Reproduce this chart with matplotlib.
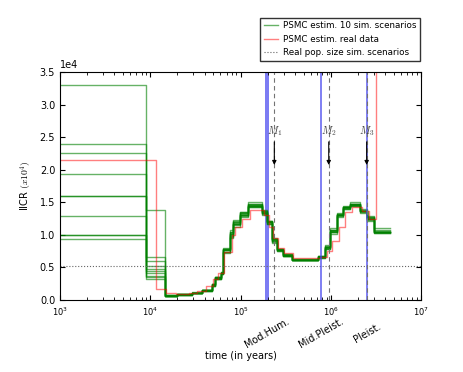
import matplotlib
matplotlib.use('Agg')
import matplotlib.pyplot as plt
import matplotlib.transforms as mtransforms

plt.rcParams['mathtext.fontset'] = 'cm'
plt.rcParams['font.size'] = 7

SCALE = 1e4  # values below are in units of 1e4

# step start times (years), shared by the simulated PSMC curves
SIM_T = [300, 9000, 14500, 19800, 29000, 37400, 48300, 52000, 60800, 64000,
         76600, 82600, 98700, 121000, 173000, 197000, 224000, 254000, 296000,
         372000, 723000, 864000, 982000, 1170000, 1370000, 1630000, 2110000,
         2520000, 3020000]
SIM_END = 4530000

SIM_V = [
    [3.30, 0.52, 0.06, 0.08, 0.11, 0.14, 0.22, 0.33, 0.42, 0.78, 1.02, 1.18, 1.32, 1.45, 1.35,
     1.20, 0.92, 0.76, 0.68, 0.62, 0.66, 0.82, 1.08, 1.32, 1.42, 1.47, 1.37, 1.26, 1.10],
    [2.40, 0.66, 0.07, 0.09, 0.10, 0.15, 0.24, 0.35, 0.40, 0.72, 0.95, 1.12, 1.28, 1.42, 1.30,
     1.16, 0.88, 0.75, 0.68, 0.61, 0.65, 0.78, 1.02, 1.28, 1.40, 1.45, 1.35, 1.22, 1.05],
    [2.26, 0.48, 0.06, 0.09, 0.11, 0.16, 0.25, 0.36, 0.43, 0.80, 1.07, 1.23, 1.35, 1.50, 1.38,
     1.22, 0.95, 0.79, 0.70, 0.63, 0.68, 0.85, 1.10, 1.33, 1.45, 1.50, 1.40, 1.29, 1.07],
    [1.93, 0.45, 0.06, 0.08, 0.11, 0.15, 0.23, 0.34, 0.41, 0.76, 0.98, 1.15, 1.30, 1.44, 1.33,
     1.18, 0.90, 0.77, 0.69, 0.62, 0.66, 0.80, 1.05, 1.30, 1.42, 1.46, 1.36, 1.24, 1.03],
    [1.60, 1.38, 0.07, 0.09, 0.12, 0.15, 0.22, 0.33, 0.40, 0.74, 1.00, 1.17, 1.31, 1.46, 1.36,
     1.21, 0.93, 0.78, 0.69, 0.61, 0.67, 0.83, 1.07, 1.31, 1.43, 1.48, 1.38, 1.27, 1.06],
    [1.60, 0.37, 0.06, 0.08, 0.10, 0.14, 0.23, 0.35, 0.42, 0.77, 1.05, 1.20, 1.33, 1.48, 1.34,
     1.19, 0.91, 0.76, 0.68, 0.62, 0.66, 0.81, 1.06, 1.30, 1.41, 1.46, 1.36, 1.25, 1.04],
    [1.29, 0.41, 0.06, 0.09, 0.11, 0.16, 0.24, 0.34, 0.41, 0.79, 1.03, 1.19, 1.34, 1.43, 1.32,
     1.17, 0.89, 0.75, 0.67, 0.61, 0.65, 0.79, 1.04, 1.29, 1.39, 1.44, 1.34, 1.23, 1.03],
    [1.00, 0.33, 0.06, 0.08, 0.11, 0.15, 0.22, 0.33, 0.40, 0.73, 0.97, 1.16, 1.29, 1.44, 1.33,
     1.19, 0.92, 0.77, 0.69, 0.62, 0.67, 0.82, 1.07, 1.32, 1.43, 1.47, 1.37, 1.26, 1.05],
    [1.00, 0.35, 0.07, 0.09, 0.11, 0.14, 0.23, 0.34, 0.42, 0.76, 1.01, 1.17, 1.31, 1.46, 1.35,
     1.20, 0.93, 0.78, 0.70, 0.63, 0.66, 0.81, 1.06, 1.31, 1.42, 1.47, 1.37, 1.27, 1.04],
    [0.93, 0.60, 0.06, 0.09, 0.11, 0.15, 0.24, 0.35, 0.43, 0.78, 1.04, 1.21, 1.35, 1.47, 1.36,
     1.21, 0.94, 0.78, 0.69, 0.62, 0.66, 0.80, 1.05, 1.30, 1.41, 1.46, 1.36, 1.25, 1.04],
]

# PSMC on the real data
REAL_T = [300, 11700, 14900, 19300, 27000, 33000, 41000, 50000, 56000, 66000,
          80000, 87000, 103000, 127000, 180000, 205000, 232000, 262000, 305000,
          385000, 760000, 900000, 1020000, 1230000, 1430000, 1700000, 2200000,
          2640000, 3170000]
REAL_END = 4500000
REAL_V = [2.15, 0.17, 0.10, 0.09, 0.11, 0.14, 0.21, 0.33, 0.42, 0.74, 1.00, 1.12, 1.25, 1.38,
          1.30, 1.12, 0.95, 0.80, 0.72, 0.65, 0.66, 0.75, 0.90, 1.12, 1.35, 1.42, 1.36, 1.25, 8.0]

REAL_POP = 0.52  # simulated population size (x1e4)

# time markers
MOD_HUM = (185000, 205000)
MID_PLEIST = 780000
PLEIST = 2540000
M_TIMES = [237000, 950000, 2500000]
M_LABELS = ['$M_1$', '$M_2$', '$M_3$']
PERIOD_LABELS = [('Mod.Hum.', 195000), ('Mid.Pleist.', 780000), ('Pleist.', 2540000)]


def steps(t, v, end):
    return list(t) + [end], [x * SCALE for x in v] + [v[-1] * SCALE]


fig = plt.figure(figsize=(4.64, 3.72), dpi=100)
ax = fig.add_axes([60 / 464, 72 / 372, 361 / 464, 228 / 372])

for i, vals in enumerate(SIM_V):
    x, y = steps(SIM_T, vals, SIM_END)
    ax.plot(x, y, drawstyle='steps-post', color='g', alpha=0.6, lw=1,
            label='PSMC estim. 10 sim. scenarios' if i == 0 else None)

x, y = steps(REAL_T, REAL_V, REAL_END)
ax.plot(x, y, drawstyle='steps-post', color='r', alpha=0.5, lw=1,
        label='PSMC estim. real data')

ax.axhline(REAL_POP * SCALE, color='0.4', ls=':', lw=0.8,
           label='Real pop. size sim. scenarios')

ax.axvspan(*MOD_HUM, color='#4444ee', alpha=0.7, lw=0)
ax.axvline(MID_PLEIST, color='#4444ee', alpha=0.8, lw=1.2)
ax.axvline(PLEIST, color='#4444ee', alpha=0.8, lw=1.2)
for t in M_TIMES:
    ax.axvline(t, color='0.45', ls='--', lw=0.8, dashes=(4, 3))

for t, lab in zip(M_TIMES, M_LABELS):
    ax.annotate('', xy=(t, 2.03 * SCALE), xytext=(t, 2.47 * SCALE),
                arrowprops=dict(arrowstyle='-|>', color='k', lw=0.8, mutation_scale=6))
    ax.text(t, 2.6 * SCALE, lab, ha='center', va='center', fontsize=7.5, color='0.25')

trans = mtransforms.blended_transform_factory(ax.transData, ax.transAxes)
for lab, t in PERIOD_LABELS:
    ax.text(t, -0.145, lab, transform=trans, rotation=30, ha='center', va='center',
            fontsize=7)

ax.set_xscale('log')
ax.set_xlim(1e3, 1e7)
ax.set_ylim(0, 3.5 * SCALE)
ax.ticklabel_format(axis='y', style='sci', scilimits=(4, 4))
ax.tick_params(which='both', direction='in', top=True, right=True)
ax.tick_params(axis='x', labelsize=6, pad=4)
ax.tick_params(axis='y', labelsize=7)
ax.yaxis.get_offset_text().set_fontsize(7)
ax.set_xlabel('time (in years)', fontsize=7)
ax.xaxis.set_label_coords(0.5, -0.225)
ax.set_ylabel(r'IICR $(x10^4)$', fontsize=7)

fig.legend(loc='upper right', bbox_to_anchor=(420 / 464, 1 - 18 / 372),
           bbox_transform=fig.transFigure, fontsize=6.3, handlelength=1.6,
           handletextpad=0.6, labelspacing=0.5, fancybox=False, edgecolor='k',
           borderaxespad=0)

fig.savefig('out.png', dpi=100)
